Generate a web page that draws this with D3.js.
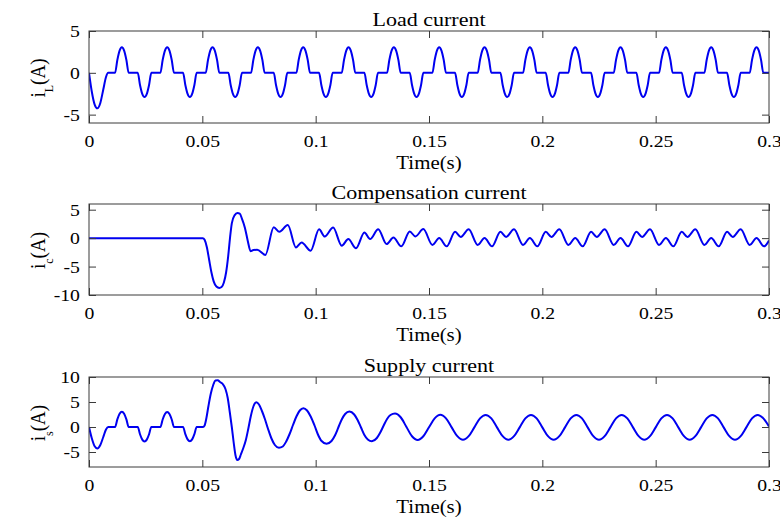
<!DOCTYPE html>
<html>
<head>
<meta charset="utf-8">
<script src="https://cdn.jsdelivr.net/npm/d3@7"></script>
<style>
  html,body{margin:0;padding:0;background:#fff;}
  svg{display:block;}
  text{font-family:"Liberation Serif","Times New Roman",serif;fill:#000;}
</style>
</head>
<body>
<script>
// ---------------- DATA ----------------
const xTicks = [0, 0.05, 0.1, 0.15, 0.2, 0.25, 0.3];
const xTickLabels = ["0", "0.05", "0.1", "0.15", "0.2", "0.25", "0.3"];
const loadTicks = [-5, 0, 5];
const compTicks = [-10, -5, 0, 5];
const supplyTicks = [-5, 0, 5, 10];
const titles = ["Load current", "Compensation current", "Supply current"];
const subscripts = ["L", "c", "s"];
const xLabel = "Time(s)";

// [time (s), current (A)]
const loadCurrent = [
[0,0],[0.0012,-2.2],[0.0025,-3.8],[0.0037,-4.25],[0.005,-3.6],[0.0063,-2.0],[0.0075,-0.5],[0.0085,0],
[0.0115,0],[0.0125,1.53],[0.0135,2.65],[0.0145,3.05],[0.0155,2.65],[0.0165,1.53],[0.0175,0],
[0.0215,0],[0.0225,-1.45],[0.0235,-2.52],[0.0245,-2.9],[0.0255,-2.52],[0.0265,-1.45],[0.0275,0],
[0.0315,0],[0.0325,1.53],[0.0335,2.65],[0.0345,3.05],[0.0355,2.65],[0.0365,1.53],[0.0375,0],
[0.0415,0],[0.0425,-1.45],[0.0435,-2.52],[0.0445,-2.9],[0.0455,-2.52],[0.0465,-1.45],[0.0475,0],
[0.0515,0],[0.0525,1.53],[0.0535,2.65],[0.0545,3.05],[0.0555,2.65],[0.0565,1.53],[0.0575,0],
[0.0615,0],[0.0625,-1.45],[0.0635,-2.52],[0.0645,-2.9],[0.0655,-2.52],[0.0665,-1.45],[0.0675,0],
[0.0715,0],[0.0725,1.53],[0.0735,2.65],[0.0745,3.05],[0.0755,2.65],[0.0765,1.53],[0.0775,0],
[0.0815,0],[0.0825,-1.45],[0.0835,-2.52],[0.0845,-2.9],[0.0855,-2.52],[0.0865,-1.45],[0.0875,0],
[0.0915,0],[0.0925,1.53],[0.0935,2.65],[0.0945,3.05],[0.0955,2.65],[0.0965,1.53],[0.0975,0],
[0.1015,0],[0.1025,-1.45],[0.1035,-2.52],[0.1045,-2.9],[0.1055,-2.52],[0.1065,-1.45],[0.1075,0],
[0.1115,0],[0.1125,1.53],[0.1135,2.65],[0.1145,3.05],[0.1155,2.65],[0.1165,1.53],[0.1175,0],
[0.1215,0],[0.1225,-1.45],[0.1235,-2.52],[0.1245,-2.9],[0.1255,-2.52],[0.1265,-1.45],[0.1275,0],
[0.1315,0],[0.1325,1.53],[0.1335,2.65],[0.1345,3.05],[0.1355,2.65],[0.1365,1.53],[0.1375,0],
[0.1415,0],[0.1425,-1.45],[0.1435,-2.52],[0.1445,-2.9],[0.1455,-2.52],[0.1465,-1.45],[0.1475,0],
[0.1515,0],[0.1525,1.53],[0.1535,2.65],[0.1545,3.05],[0.1555,2.65],[0.1565,1.53],[0.1575,0],
[0.1615,0],[0.1625,-1.45],[0.1635,-2.52],[0.1645,-2.9],[0.1655,-2.52],[0.1665,-1.45],[0.1675,0],
[0.1715,0],[0.1725,1.53],[0.1735,2.65],[0.1745,3.05],[0.1755,2.65],[0.1765,1.53],[0.1775,0],
[0.1815,0],[0.1825,-1.45],[0.1835,-2.52],[0.1845,-2.9],[0.1855,-2.52],[0.1865,-1.45],[0.1875,0],
[0.1915,0],[0.1925,1.53],[0.1935,2.65],[0.1945,3.05],[0.1955,2.65],[0.1965,1.53],[0.1975,0],
[0.2015,0],[0.2025,-1.45],[0.2035,-2.52],[0.2045,-2.9],[0.2055,-2.52],[0.2065,-1.45],[0.2075,0],
[0.2115,0],[0.2125,1.53],[0.2135,2.65],[0.2145,3.05],[0.2155,2.65],[0.2165,1.53],[0.2175,0],
[0.2215,0],[0.2225,-1.45],[0.2235,-2.52],[0.2245,-2.9],[0.2255,-2.52],[0.2265,-1.45],[0.2275,0],
[0.2315,0],[0.2325,1.53],[0.2335,2.65],[0.2345,3.05],[0.2355,2.65],[0.2365,1.53],[0.2375,0],
[0.2415,0],[0.2425,-1.45],[0.2435,-2.52],[0.2445,-2.9],[0.2455,-2.52],[0.2465,-1.45],[0.2475,0],
[0.2515,0],[0.2525,1.53],[0.2535,2.65],[0.2545,3.05],[0.2555,2.65],[0.2565,1.53],[0.2575,0],
[0.2615,0],[0.2625,-1.45],[0.2635,-2.52],[0.2645,-2.9],[0.2655,-2.52],[0.2665,-1.45],[0.2675,0],
[0.2715,0],[0.2725,1.53],[0.2735,2.65],[0.2745,3.05],[0.2755,2.65],[0.2765,1.53],[0.2775,0],
[0.2815,0],[0.2825,-1.45],[0.2835,-2.52],[0.2845,-2.9],[0.2855,-2.52],[0.2865,-1.45],[0.2875,0],
[0.2915,0],[0.2925,1.53],[0.2935,2.65],[0.2945,3.05],[0.2955,2.65],[0.2965,1.53],[0.2975,0],
[0.3,0]
];

const compCurrent = [
[0,0],[0.0502,0],[0.051,-0.3],[0.052,-1.6],[0.053,-3.8],[0.054,-6.0],[0.055,-7.6],
[0.0562,-8.5],[0.0575,-8.75],[0.0585,-8.6],[0.0595,-7.8],[0.0605,-6.0],[0.0614,-3.2],
[0.0622,0],[0.063,2.6],[0.0642,4.0],[0.0655,4.4],[0.0665,4.3],[0.0675,3.4],[0.0688,1.8],
[0.07,-0.4],[0.0713,-2.3],[0.0725,-2.1],[0.0742,-2.05],[0.0778,-2.95],[0.0815,1.9],
[0.084,1.1],[0.0877,2.3],[0.0913,-1.63],[0.0938,-0.76],[0.0978,-2.2],[0.1015,1.55],
[0.104,0.28],[0.1077,1.85],[0.1115,-1.34],[0.1144,-0.17],[0.1178,-1.8],[0.1215,0.98],
[0.124,-0.17],[0.1276,1.57],[0.1313,-1.05],[0.1343,0.1],[0.1378,-1.45],[0.1415,1.15],
[0.144,0.3],[0.1475,1.6],[0.1515,-1.2],[0.1545,0.0],[0.1578,-1.45],[0.1615,1.1],
[0.164,0.2],[0.1675,1.55],[0.1715,-1.2],[0.1745,0.0],[0.1778,-1.45],[0.1815,1.1],
[0.184,0.2],[0.1875,1.55],[0.1915,-1.2],[0.1945,0.0],[0.1978,-1.45],[0.2015,1.1],
[0.204,0.2],[0.2075,1.55],[0.2115,-1.2],[0.2145,0.0],[0.2178,-1.45],[0.2215,1.1],
[0.224,0.2],[0.2275,1.55],[0.2315,-1.2],[0.2345,0.0],[0.2378,-1.45],[0.2415,1.1],
[0.244,0.2],[0.2475,1.55],[0.2515,-1.2],[0.2545,0.0],[0.2578,-1.45],[0.2615,1.1],
[0.264,0.2],[0.2675,1.55],[0.2715,-1.2],[0.2745,0.0],[0.2778,-1.45],[0.2815,1.1],
[0.284,0.2],[0.2875,1.55],[0.2915,-1.2],[0.2945,0.0],[0.2978,-1.45],[0.3,-0.4]
];

const supplyCurrent = [
[0,0],[0.0012,-2.2],[0.0025,-3.85],[0.0037,-4.3],[0.005,-3.6],[0.0063,-2.0],[0.0075,-0.5],[0.0085,0],
[0.0115,0],[0.0125,1.53],[0.0135,2.65],[0.0145,3.05],[0.0155,2.65],[0.0165,1.53],[0.0175,0],
[0.0215,0],[0.0225,-1.45],[0.0235,-2.52],[0.0245,-2.9],[0.0255,-2.52],[0.0265,-1.45],[0.0275,0],
[0.0315,0],[0.0325,1.5],[0.0335,2.6],[0.0345,3.0],[0.0355,2.6],[0.0365,1.5],[0.0375,0],
[0.0415,0],[0.0425,-1.42],[0.0435,-2.48],[0.0445,-2.85],[0.0455,-2.48],[0.0465,-1.42],[0.0475,0],
[0.0503,0],[0.051,0.3],[0.0518,1.8],[0.0527,4.2],[0.0537,6.6],[0.0548,8.4],[0.0558,9.3],
[0.0568,9.35],[0.0578,9.0],[0.059,8.6],[0.0602,7.6],[0.0612,5.8],[0.0621,3.0],[0.063,0],
[0.0638,-3.0],[0.0646,-5.6],[0.0654,-6.6],[0.0662,-6.4],[0.067,-5.5],[0.068,-4.3],
[0.0692,-2.6],[0.0703,-0.3],[0.0714,2.2],[0.0726,4.2],[0.0738,4.95],[0.075,4.5],
[0.0763,3.2],[0.0776,1.6],[0.079,-0.4],[0.0805,-2.3],[0.082,-3.6],[0.0838,-4.15],
[0.0855,-3.9],[0.087,-2.9],[0.0885,-1.4],[0.09,0.4],[0.0915,2.1],[0.093,3.3],[0.0946,3.75],
[0.0962,3.3],[0.0978,2.1],[0.0995,0.3],[0.101,-1.5],[0.1025,-2.75],[0.1048,-3.35],
[0.107,-2.8],[0.1085,-1.7],[0.11,-0.1],[0.1115,1.5],[0.113,2.6],[0.1149,3.1],[0.117,2.5],
[0.1185,1.4],[0.12,-0.1],[0.1215,-1.6],[0.123,-2.5],[0.1248,-2.85],[0.127,-2.2],
[0.1285,-1.1],[0.13,0.3],[0.1315,1.6],[0.133,2.4],[0.135,2.7],[0.1375,1.95],[0.14,0.05],
[0.1425,-1.85],[0.145,-2.6],[0.1475,-1.85],[0.15,-0.05],[0.1525,1.72],[0.155,2.45],
[0.1575,1.72],[0.16,-0.07],[0.1625,-1.83],[0.165,-2.56],[0.1675,-1.83],[0.17,-0.07],[0.1725,1.72],[0.175,2.42],
[0.1775,1.72],[0.18,-0.07],[0.1825,-1.83],[0.185,-2.56],[0.1875,-1.83],[0.19,-0.07],[0.1925,1.72],[0.195,2.42],
[0.1975,1.72],[0.2,-0.07],[0.2025,-1.83],[0.205,-2.56],[0.2075,-1.83],[0.21,-0.07],[0.2125,1.72],[0.215,2.42],
[0.2175,1.72],[0.22,-0.07],[0.2225,-1.83],[0.225,-2.56],[0.2275,-1.83],[0.23,-0.07],[0.2325,1.72],[0.235,2.42],
[0.2375,1.72],[0.24,-0.07],[0.2425,-1.83],[0.245,-2.56],[0.2475,-1.83],[0.25,-0.07],[0.2525,1.72],[0.255,2.42],
[0.2575,1.72],[0.26,-0.07],[0.2625,-1.83],[0.265,-2.56],[0.2675,-1.83],[0.27,-0.07],[0.2725,1.72],[0.275,2.42],
[0.2775,1.72],[0.28,-0.07],[0.2825,-1.83],[0.285,-2.56],[0.2875,-1.83],[0.29,-0.07],[0.2925,1.72],[0.295,2.42],
[0.2975,1.72],[0.3,0.1]
];

// ---------------- LAYOUT ----------------
const W = 780, H = 519;
const L = 89, R = 769;
const panels = [
  {data: loadCurrent,   domain: [-6, 5],  yTicks: loadTicks,   top: 31,  bottom: 123},
  {data: compCurrent,   domain: [-10, 6], yTicks: compTicks,   top: 204, bottom: 295},
  {data: supplyCurrent, domain: [-8, 10], yTicks: supplyTicks, top: 377, bottom: 467}
];
const SX = 1.16;          // horizontal stretch of the reference's text
const axisColor = "#3a3a3a";

const svg = d3.select("body").append("svg").attr("width", W).attr("height", H);
const x = d3.scaleLinear().domain([0, 0.3]).range([L, R]);

panels.forEach((p, i) => {
  const y = d3.scaleLinear().domain(p.domain).range([p.bottom, p.top]);
  const g = svg.append("g");

  const clipId = "clip" + i;
  svg.append("clipPath").attr("id", clipId).append("rect")
    .attr("x", L).attr("y", p.top).attr("width", R - L).attr("height", p.bottom - p.top);
  g.append("path")
    .datum(p.data)
    .attr("clip-path", `url(#${clipId})`)
    .attr("fill", "none")
    .attr("stroke", "#0000f0")
    .attr("stroke-width", 2)
    .attr("stroke-linejoin", "round")
    .attr("d", d3.line().x(d => x(d[0])).y(d => y(d[1])).curve(d3.curveMonotoneX));

  const tk = 7;
  const bottomAx = g.append("g").attr("transform", `translate(0,${p.bottom})`)
    .call(d3.axisBottom(x).tickValues(xTicks).tickSize(-tk).tickPadding(12)
      .tickFormat((d, j) => xTickLabels[j]));
  const topAx = g.append("g").attr("transform", `translate(0,${p.top})`)
    .call(d3.axisTop(x).tickValues(xTicks).tickSize(-tk).tickFormat(""));
  const leftAx = g.append("g").attr("transform", `translate(${L},0)`)
    .call(d3.axisLeft(y).tickValues(p.yTicks).tickSize(-tk).tickPadding(7.8)
      .tickFormat(d => String(d)));
  const rightAx = g.append("g").attr("transform", `translate(${R},0)`)
    .call(d3.axisRight(y).tickValues(p.yTicks).tickSize(-tk).tickFormat(""));

  [bottomAx, topAx, leftAx, rightAx].forEach(a => {
    a.select(".domain").remove();
    a.selectAll("line").attr("stroke", axisColor);
    a.selectAll("text")
      .attr("font-family", "Liberation Serif, Times New Roman, serif")
      .attr("font-size", 17).attr("fill", "#000")
      .attr("transform", `scale(${SX},1)`);
  });

  g.append("rect").attr("x", L).attr("y", p.top)
    .attr("width", R - L).attr("height", p.bottom - p.top)
    .attr("fill", "none").attr("stroke", axisColor).attr("stroke-width", 1);

  g.append("text")
    .attr("transform", `translate(${(L + R) / 2},${p.top - 5}) scale(${SX},1)`)
    .attr("text-anchor", "middle").attr("font-size", 19)
    .text(titles[i]);

  g.append("text")
    .attr("transform", `translate(${(L + R) / 2},${p.bottom + 46}) scale(${SX},1)`)
    .attr("text-anchor", "middle").attr("font-size", 18)
    .text(xLabel);

  const yl = g.append("text")
    .attr("transform", `translate(45,${(p.top + p.bottom) / 2 + 1}) scale(1.1,1) rotate(-90)`)
    .attr("text-anchor", "middle").attr("font-size", 19);
  yl.append("tspan").text("i");
  yl.append("tspan").attr("font-size", 12).attr("dy", 7).text(subscripts[i]);
  yl.append("tspan").attr("dy", -7).text("(A)");
});
</script>
</body>
</html>
